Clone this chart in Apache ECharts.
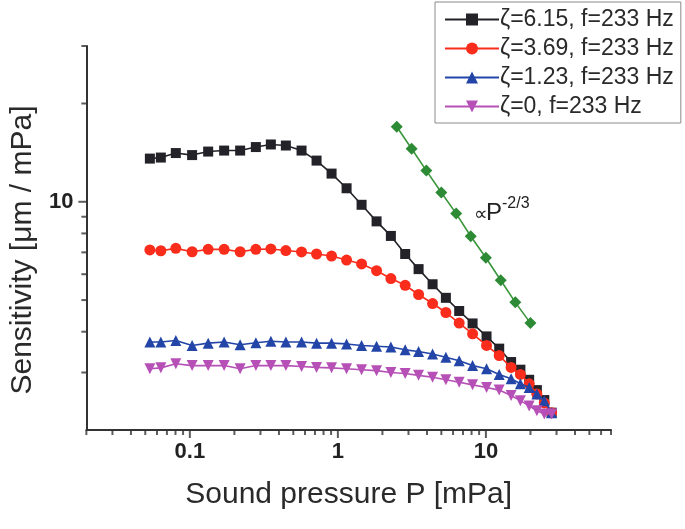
<!DOCTYPE html>
<html>
<head>
<meta charset="utf-8">
<script src="https://cdn.jsdelivr.net/npm/echarts@6/dist/echarts.min.js"></script>
<style>
html,body{margin:0;padding:0;background:#fff;}
#chart{width:685px;height:529px;}
</style>
</head>
<body>
<div id="chart"></div>
<script>
// Sound pressure P [mPa] for the measured series
const pressure = [0.0537, 0.0637, 0.0804, 0.1036, 0.133, 0.1705, 0.2187, 0.2792, 0.3526, 0.4453,
  0.5683, 0.7179, 0.9066, 1.145, 1.446, 1.826, 2.281, 2.849, 3.51, 4.364,
  5.366, 6.60, 8.13, 10.1, 12.3, 14.8, 17.1, 19.6, 22.1, 24.8, 27.8];
const sensZeta615 = [13.56, 13.66, 14.10, 13.90, 14.25, 14.35, 14.35, 14.71, 14.98, 14.87,
  14.35, 13.37, 12.20, 11.00, 9.79, 8.71, 7.86, 6.92, 6.22, 5.59,
  5.08, 4.63, 4.24, 3.87, 3.55, 3.23, 3.06, 2.85, 2.65, 2.47, 2.26];
const sensZeta369 = [7.12, 7.08, 7.20, 7.03, 7.15, 7.15, 7.03, 7.15, 7.17, 7.09,
  7.02, 6.92, 6.82, 6.63, 6.45, 6.15, 5.82, 5.55, 5.20, 4.88,
  4.58, 4.25, 3.94, 3.63, 3.38, 3.11, 2.96, 2.77, 2.58, 2.42, 2.26];
const sensZeta123 = [3.72, 3.72, 3.76, 3.63, 3.69, 3.72, 3.65, 3.70, 3.74, 3.72,
  3.72, 3.69, 3.69, 3.67, 3.63, 3.61, 3.59, 3.52, 3.48, 3.42,
  3.34, 3.26, 3.15, 3.08, 2.96, 2.87, 2.77, 2.70, 2.58, 2.46, 2.26];
const sensZeta0 = [3.08, 3.10, 3.19, 3.15, 3.15, 3.15, 3.08, 3.15, 3.15, 3.15,
  3.13, 3.11, 3.10, 3.08, 3.06, 3.04, 3.00, 2.98, 2.94, 2.90,
  2.85, 2.80, 2.75, 2.70, 2.65, 2.55, 2.46, 2.37, 2.29, 2.24, 2.24];
// P^-2/3 guide line
const pressureFit = [2.5, 3.15, 3.96, 5.0, 6.3, 7.9, 10, 12.6, 15.8, 20];
const sensFit = [16.98, 14.53, 12.46, 10.68, 9.20, 7.84, 6.74, 5.75, 4.92, 4.25];

const seriesNames = ['ζ=6.15, f=233 Hz', 'ζ=3.69, f=233 Hz', 'ζ=1.23, f=233 Hz', 'ζ=0, f=233 Hz'];

// axis ranges and tick values
const xMin = 0.02, xMax = 70;
const yMin = 2, yMax = 30;
const xLabelTicks = [0.1, 1, 10];
const xMinorTicks = [0.02, 0.03, 0.04, 0.05, 0.06, 0.07, 0.08, 0.09,
  0.2, 0.3, 0.4, 0.5, 0.6, 0.7, 0.8, 0.9, 2, 3, 4, 5, 6, 7, 8, 9, 20, 30, 40, 50, 60, 70];
const yLabelTicks = [10];
const yMinorTicks = [3, 4, 5, 6, 7, 8, 9, 20, 30];

const zip = (xs, ys) => xs.map((x, i) => [x, ys[i]]);
const near = (v, list) => list.some(t => Math.abs(v - t) / t < 1e-6);

const FONT = 'Liberation Sans, Arial, DejaVu Sans, sans-serif';
const invTri = 'path://M0,0 L10,0 L5,9 Z';

const chart = echarts.init(document.getElementById('chart'), null, {renderer: 'canvas'});

function dataSeries(name, ys, color, symbol, size, z) {
  return {
    name: name, type: 'line', data: zip(pressure, ys),
    symbol: symbol, symbolSize: size, showSymbol: true,
    lineStyle: {color: color, width: 1.6},
    itemStyle: {color: color, borderWidth: 0},
    z: z, animation: false
  };
}

const option = {
  animation: false,
  backgroundColor: '#ffffff',
  grid: {left: 86, right: 74, top: 46, bottom: 99},
  legend: {
    data: seriesNames,
    orient: 'vertical',
    left: 435, top: 2,
    padding: [6, 7, 5, 9],
    itemGap: 6,
    itemWidth: 54, itemHeight: 15,
    borderColor: '#8a8a8a', borderWidth: 1,
    backgroundColor: '#fff',
    textStyle: {fontFamily: FONT, fontSize: 23, color: '#2a2a2a', lineHeight: 21, padding: [0, 0, 0, -4]}
  },
  xAxis: {
    type: 'log', logBase: 10, min: xMin, max: xMax,
    name: 'Sound pressure P [mPa]', nameLocation: 'middle', nameGap: 50,
    nameTextStyle: {fontFamily: FONT, fontSize: 30, color: '#2a2a2a'},
    axisLine: {show: true, onZero: false, lineStyle: {color: '#333', width: 2}},
    axisTick: {show: false},
    splitLine: {show: false},
    axisLabel: {
      margin: 11, fontFamily: FONT, fontSize: 22, fontWeight: 'bold', color: '#222',
      showMinLabel: false, showMaxLabel: false,
      formatter: v => near(v, xLabelTicks) ? String(+v.toPrecision(6)) : ''
    }
  },
  yAxis: {
    type: 'log', logBase: 10, min: yMin, max: yMax,
    name: 'Sensitivity [μm / mPa]', nameLocation: 'middle', nameGap: 36, nameRotate: 90,
    nameTextStyle: {fontFamily: FONT, fontSize: 30, color: '#2a2a2a', padding: [0, 24, 0, 0]},
    axisLine: {show: true, onZero: false, lineStyle: {color: '#333', width: 2}},
    axisTick: {show: false},
    splitLine: {show: false},
    axisLabel: {
      margin: 13, fontFamily: FONT, fontSize: 22, fontWeight: 'bold', color: '#222',
      showMinLabel: false, showMaxLabel: false,
      formatter: v => near(v, yLabelTicks) ? String(+v.toPrecision(6)) : ''
    }
  },
  series: [
    // axis tick marks at true logarithmic positions
    {type: 'scatter', silent: true, clip: false, z: 1, animation: false,
      data: xLabelTicks.map(v => [v, yMin]), symbol: 'rect', symbolSize: [2, 8], symbolOffset: [0, 4],
      itemStyle: {color: '#333'}},
    {type: 'scatter', silent: true, clip: false, z: 1, animation: false,
      data: xMinorTicks.map(v => [v, yMin]), symbol: 'rect', symbolSize: [2, 5], symbolOffset: [0, 2.5],
      itemStyle: {color: '#333'}},
    {type: 'scatter', silent: true, clip: false, z: 1, animation: false,
      data: yLabelTicks.map(v => [xMin, v]), symbol: 'rect', symbolSize: [8, 2], symbolOffset: [-4, 0],
      itemStyle: {color: '#333'}},
    {type: 'scatter', silent: true, clip: false, z: 1, animation: false,
      data: yMinorTicks.map(v => [xMin, v]), symbol: 'rect', symbolSize: [5, 2], symbolOffset: [-2.5, 0],
      itemStyle: {color: '#333'}},
    dataSeries(seriesNames[0], sensZeta615, '#222228', 'rect', 10, 3),
    dataSeries(seriesNames[1], sensZeta369, '#fa2d1c', 'circle', 11, 4),
    dataSeries(seriesNames[2], sensZeta123, '#2345a8', 'triangle', 11, 5),
    dataSeries(seriesNames[3], sensZeta0, '#b650b6', invTri, 11, 6),
    {
      name: 'fit', type: 'line', data: zip(pressureFit, sensFit),
      symbol: 'diamond', symbolSize: 12,
      lineStyle: {color: '#3a963a', width: 1.6},
      itemStyle: {color: '#2e8b35'}, z: 3, animation: false
    }
  ],
  graphic: [
    {type: 'text', left: 474, top: 205, style: {text: '∝', font: '19px ' + FONT, fill: '#222'}},
    {type: 'text', left: 486, top: 201, style: {text: 'P', font: '24px ' + FONT, fill: '#222'}},
    {type: 'text', left: 502, top: 196, style: {text: '-2/3', font: '16px ' + FONT, fill: '#222'}}
  ]
};
chart.setOption(option);
</script>
</body>
</html>
